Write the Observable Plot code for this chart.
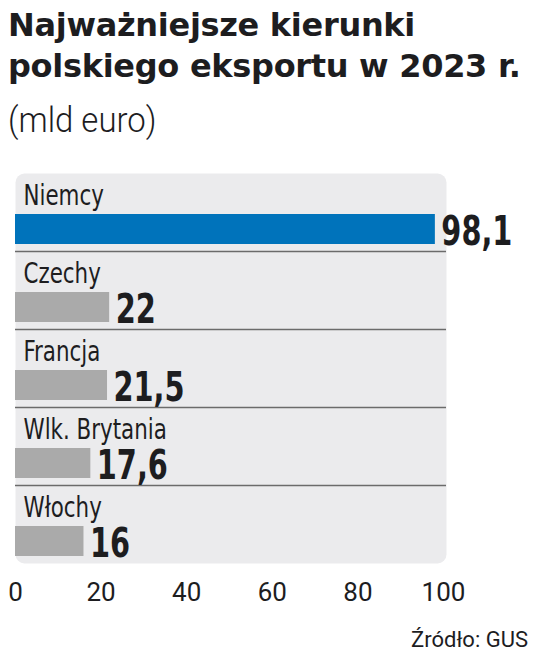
<!DOCTYPE html>
<html>
<head>
<meta charset="utf-8">
<script src="https://cdn.jsdelivr.net/npm/d3@7"></script>
<script src="https://cdn.jsdelivr.net/npm/@observablehq/plot@0.6"></script>
<style>
  html, body { margin: 0; padding: 0; background: #ffffff; }
  body { width: 536px; height: 659px; overflow: hidden; font-family: Roboto, "Noto Sans", sans-serif; color: #1d1d1f; }
  #header { height: 150px; box-sizing: border-box; padding: 5px 0 0 8px; }
  #title { font-family: "DejaVu Sans", sans-serif; font-size: 32px; font-weight: 700; line-height: 41px; letter-spacing: -0.3px; color: #1d1d1f; }
  #subtitle { display: inline-block; margin-top: 13px; font-size: 35px; font-weight: 300; line-height: 41px; transform: scaleX(0.94); transform-origin: left center; color: #1d1d1f; }
  #caption { font-size: 22px; line-height: 28px; text-align: right; padding: 6px 8px 0 0; color: #1d1d1f; }
  svg { display: block; }
</style>
</head>
<body>
<div id="header">
  <div id="title">Najważniejsze kierunki<br>polskiego eksportu w 2023 r.</div>
  <div id="subtitle">(mld euro)</div>
</div>
<div id="chart"></div>
<div id="caption">Źródło: GUS</div>
<script>
const countries = ["Niemcy", "Czechy", "Francja", "Wlk. Brytania", "Włochy"];
const values = [98.1, 22, 21.5, 17.6, 16];
const valueLabels = ["98,1", "22", "21,5", "17,6", "16"];
const highlight = [true, false, false, false, false];
const xTicks = [0, 20, 40, 60, 80, 100];

const data = countries.map((c, i) => ({country: c, value: values[i], label: valueLabels[i], hi: highlight[i]}));
const separators = countries.slice(0, -1);
const narrow = "'DejaVu Sans Condensed', 'DejaVu Sans', sans-serif";

const chart = Plot.plot({
  width: 536,
  height: 470,
  marginTop: 23,
  marginBottom: 57,
  marginLeft: 15,
  marginRight: 93,
  style: {background: "transparent", color: "#1d1d1f", fontFamily: "Roboto, sans-serif", fontSize: "26px"},
  x: {domain: [0, 100], ticks: xTicks, tickSize: 0, tickPadding: 19, label: null},
  y: {domain: countries, padding: 0, axis: null},
  marks: [
    Plot.frame({fill: "#ebebed", stroke: "none", rx: 9, insetRight: -3}),
    Plot.ruleY(separators, {y: d => d, dy: 39, stroke: "#6b6b6b", strokeWidth: 1.5, insetRight: -3}),
    Plot.barX(data, {x: "value", y: "country", fill: d => d.hi ? "#0073bb" : "#aaaaaa", insetTop: 41, insetBottom: 7}),
    Plot.text(data, {x: 0, y: "country", text: "country", textAnchor: "start", lineAnchor: "bottom", dx: 8, dy: -8,
      fontFamily: narrow, fontSize: 28, fill: "#1d1d1f"}),
    Plot.text(data, {x: "value", y: "country", text: "label", textAnchor: "start", lineAnchor: "bottom", dx: 6, dy: 32,
      fontFamily: narrow, fontWeight: 700, fontSize: 40, fill: "#1d1d1f"})
  ]
});

function squeeze(group, s) {
  if (!group) return;
  group.querySelectorAll("text").forEach(t => {
    let tr = t.getAttribute("transform");
    if (!tr) {
      const x = t.getAttribute("x") || 0, y = t.getAttribute("y") || 0;
      t.removeAttribute("x"); t.removeAttribute("y");
      tr = `translate(${x},${y})`;
    }
    t.setAttribute("transform", `${tr} scale(${s},1)`);
  });
}
const textGroups = chart.querySelectorAll("g[aria-label='text']");
squeeze(textGroups[0], 0.85);
squeeze(textGroups[1], 0.8);
document.getElementById("chart").appendChild(chart);
</script>
</body>
</html>
